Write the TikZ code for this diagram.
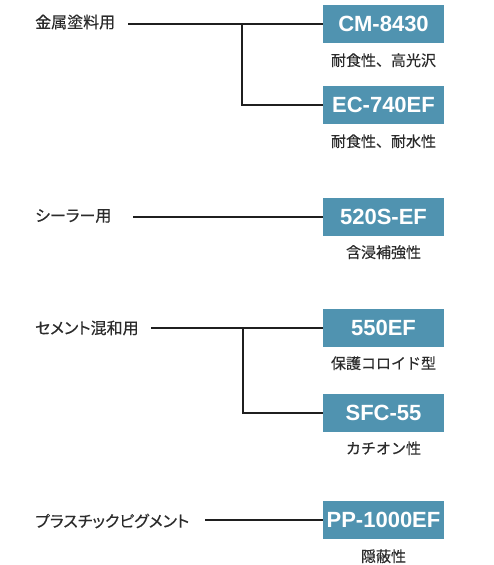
\documentclass[tikz,border=0pt]{standalone}
\usepackage{fontspec}
\setmainfont{Liberation Sans}
\newfontfamily\cjk[FakeBold=0.4]{Noto Sans CJK JP}
\newfontfamily\cjkp[FakeBold=0.4,RawFeature=+palt]{Noto Sans CJK JP}
\definecolor{boxblue}{HTML}{5093B0}
\definecolor{txt}{HTML}{2B2B2B}
\begin{document}
\begin{tikzpicture}[x=1pt,y=-1pt,
  prod/.style={fill=boxblue, minimum width=121pt, minimum height=38pt, inner sep=0pt,
    text=white, font=\fontsize{22}{24}\selectfont\bfseries},
  lbl/.style={anchor=west, inner sep=0pt, text=txt, font=\cjkp\fontsize{16}{18}\selectfont},
  captxt/.style={inner sep=0pt, text=txt, font=\cjk\fontsize{15}{18}\selectfont},
  conn/.style={line width=1.6pt, draw=black!88}]
\useasboundingbox (0,0) rectangle (493,565);
% group 1
\node[lbl] (L1) at (35,22) {金属塗料用};
\node[prod] (B1) at (383.5,24) {CM-8430};
\node[prod] (B2) at (383.5,105) {EC-740EF};
\node[captxt] (C1) at ([yshift=-17pt]B1.south) {耐食性、高光沢};
\node[captxt] (C2) at ([yshift=-17pt]B2.south) {耐食性、耐水性};
\coordinate (s1) at (128,24);
\coordinate (j1) at (242,24);
\draw[conn] (s1) -- (B1.west);
\draw[conn] (j1) |- (B2.west);
% group 2
\node[lbl] (L2) at (35,216) {シーラー用};
\node[prod] (B3) at (383.5,217) {520S-EF};
\node[captxt] (C3) at ([yshift=-16pt]B3.south) {含浸補強性};
\coordinate (s2) at (133,217);
\draw[conn] (s2) -- (B3.west);
% group 3
\node[lbl] (L3) at (35,328) {セメント混和用};
\node[prod] (B4) at (383.5,328) {550EF};
\node[prod] (B5) at (383.5,413) {SFC-55};
\node[captxt] (C4) at ([yshift=-16pt]B4.south) {保護コロイド型};
\node[captxt] (C5) at ([yshift=-16pt]B5.south) {カチオン性};
\coordinate (s3) at (151,328);
\coordinate (j3) at (243,328);
\draw[conn] (s3) -- (B4.west);
\draw[conn] (j3) |- (B5.west);
% group 4
\node[lbl] (L4) at (35,521) {プラスチックピグメント};
\node[prod] (B6) at (383.5,520) {PP-1000EF};
\node[captxt] (C6) at ([yshift=-17pt]B6.south) {隠蔽性};
\coordinate (s4) at (205,520);
\draw[conn] (s4) -- (B6.west);
\end{tikzpicture}
\end{document}
